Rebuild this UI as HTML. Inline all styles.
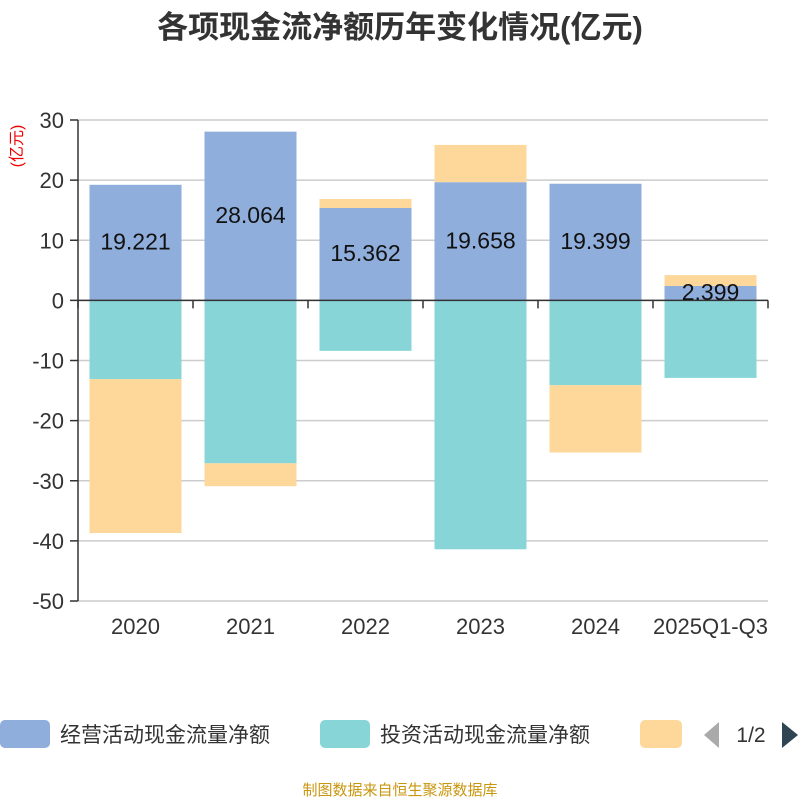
<!DOCTYPE html>
<html><head><meta charset="utf-8"><style>
body{margin:0;background:#fff;}
svg text{font-family:"Liberation Sans","Noto Sans CJK SC",sans-serif;}
</style></head><body>
<svg id="c" width="800" height="800" xmlns="http://www.w3.org/2000/svg">
<text x="400" y="38" text-anchor="middle" font-size="31" font-weight="bold" fill="#333">各项现金流净额历年变化情况(亿元)</text>
<text transform="translate(22,146) rotate(-90)" text-anchor="middle" font-size="16" fill="#e00">(亿元)</text>
<g id="grid"></g><g id="bars"></g><g id="axes"></g><g id="labels"></g>
<g>
<rect x="0" y="720" width="50" height="28" rx="5" fill="#8FAEDB"/>
<text x="60" y="742" font-size="21" fill="#333">经营活动现金流量净额</text>
<rect x="320" y="720" width="50" height="28" rx="5" fill="#88D5D8"/>
<text x="380" y="742" font-size="21" fill="#333">投资活动现金流量净额</text>
<rect x="640" y="720" width="42" height="28" rx="5" fill="#FDD89A"/>
<polygon points="719,722 719,748 704,735" fill="#aaa"/>
<text x="751" y="742" text-anchor="middle" font-size="21" fill="#333">1/2</text>
<polygon points="782,722 782,748 798,735" fill="#2f4554"/>
</g>
<text x="400" y="795" text-anchor="middle" font-size="15" fill="#C8960F">制图数据来自恒生聚源数据库</text>
</svg>
<script>
const categories=["2020","2021","2022","2023","2024","2025Q1-Q3"];
const operating=[19.221,28.064,15.362,19.658,19.399,2.399];
const investing=[-13.1,-27.1,-8.4,-41.4,-14.1,-12.9];
const financing=[-25.6,-3.8,1.5,6.2,-11.2,1.8];
const yTicks=[30,20,10,0,-10,-20,-30,-40,-50];
const colors=["#8FAEDB","#88D5D8","#FDD89A"];
const names=["operating","investing","financing"];
const NS="http://www.w3.org/2000/svg";
const x0=78,x1=768,yTop=120,yBot=601,vMax=30,vMin=-50;
const y=v=>yTop+(vMax-v)*(yBot-yTop)/(vMax-vMin);
const bw=(x1-x0)/categories.length;
const xc=i=>x0+bw*(i+0.5);
function mk(tag,attrs,parent,txt){const e=document.createElementNS(NS,tag);for(const k in attrs)e.setAttribute(k,attrs[k]);if(txt!==undefined)e.textContent=txt;document.getElementById(parent).appendChild(e);return e;}
yTicks.forEach(t=>{
 const g=mk('line',{x1:x0,x2:x1,y1:y(t),y2:y(t),stroke:'#ccc','stroke-width':1.5},'grid');
 
 
 const tk=mk('line',{x1:x0-8,x2:x0,y1:y(t),y2:y(t),stroke:'#333','stroke-width':1.5},'axes');
 
 
 const l=mk('text',{x:x0-14,y:y(t)+8,'text-anchor':'end','font-size':22,fill:'#333'},'axes',String(t));
 
 
});
const series=[operating,investing,financing];
categories.forEach((c,i)=>{
 let pos=0,neg=0;
 series.forEach((s,k)=>{
  const v=s[i];let a,b;
  if(v>=0){a=pos;b=pos+v;pos=b;}else{a=neg;b=neg+v;neg=b;}
  const top=y(Math.max(a,b)),bot=y(Math.min(a,b));
  const r=mk('rect',{x:xc(i)-bw*0.4,width:bw*0.8,y:top,height:bot-top,fill:colors[k]},'bars');
  
  
 });
 const lb=mk('text',{x:xc(i),y:y(operating[i]/2)+7,'text-anchor':'middle','font-size':23,fill:'#111'},'labels',operating[i].toFixed(3));
 
 
 const xl=mk('text',{x:xc(i),y:634,'text-anchor':'middle','font-size':22,fill:'#333'},'axes',c);
 
 
});
for(let i=0;i<=categories.length;i++){
 const t=mk('line',{x1:x0+bw*i,x2:x0+bw*i,y1:y(0),y2:y(0)+8,stroke:'#333','stroke-width':1.5},'axes');
 
 
}
const xa=mk('line',{x1:x0,x2:x1,y1:y(0),y2:y(0),stroke:'#333','stroke-width':1.5},'axes');


const ya=mk('line',{x1:x0,x2:x0,y1:yTop,y2:yBot,stroke:'#333','stroke-width':1.5},'axes');


</script>
</body></html>
